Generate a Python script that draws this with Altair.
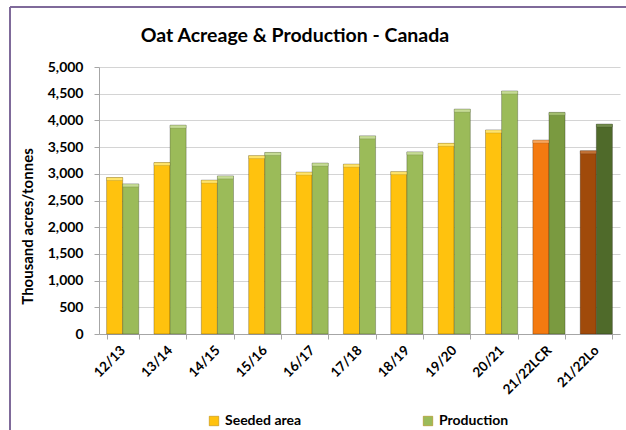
import altair as alt
import pandas as pd

years = ["12/13", "13/14", "14/15", "15/16", "16/17", "17/18", "18/19",
         "19/20", "20/21", "21/22LCR", "21/22Lo"]
seeded = [2930, 3210, 2880, 3340, 3030, 3180, 3040, 3570, 3820, 3630, 3430]
production = [2810, 3910, 2960, 3400, 3200, 3710, 3410, 4210, 4550, 4150, 3930]
seeded_keys = ["Seeded area"] * 9 + ["Seeded LCR", "Seeded Lo"]
production_keys = ["Production"] * 9 + ["Production LCR", "Production Lo"]
chart_title = ["Oat Acreage & Production - Canada"]

key_domain = ["Seeded area", "Production", "Seeded LCR", "Production LCR",
              "Seeded Lo", "Production Lo"]
key_colors = ["#FFC20E", "#9BBB59", "#F47A10", "#7A9A40", "#A04A0A", "#4F6A2A"]
cap_colors = ["#FFE46A", "#C6DC95", "#F9A55A", "#A2BE6E", "#C27236", "#728C4C"]

rows = []
for i, y in enumerate(years):
    rows.append({"year": y, "series": "Seeded area", "value": seeded[i], "key": seeded_keys[i]})
    rows.append({"year": y, "series": "Production", "value": production[i], "key": production_keys[i]})
df = pd.DataFrame(rows)
one = pd.DataFrame({"t": chart_title})

FONT = "Lato"

x_enc = alt.X("year:N", sort=years, title=None,
              scale=alt.Scale(paddingInner=0.32, paddingOuter=0.16),
              axis=alt.Axis(labelAngle=-45, labelAlign="right", labelBaseline="middle",
                            labelPadding=9, labelFontSize=13.5, labelFontWeight="bold",
                            labelFont=FONT, labelColor="#000000",
                            tickBand="extent", tickSize=5, tickColor="#A6A6A6",
                            domainColor="#A6A6A6", grid=False))
xoff = alt.XOffset("series:N", sort=["Seeded area", "Production"])
y_enc = alt.Y("value:Q", title="Thousand acres/tonnes",
              scale=alt.Scale(domain=[0, 5000], nice=False),
              axis=alt.Axis(values=list(range(0, 5001, 500)), format=",d",
                            labelFontSize=14, labelFontWeight="bold", labelFont=FONT,
                            labelColor="#000000", labelPadding=11,
                            tickSize=5, tickColor="#A6A6A6", domainColor="#A6A6A6",
                            gridColor="#D4D4D4",
                            titleFont=FONT, titleFontSize=15, titleFontWeight="bold",
                            titleColor="#000000", titleAngle=270, titleAlign="center",
                            titleBaseline="middle", titleX=-72, titleY=159))

bars = alt.Chart(df).mark_bar(
    stroke="#000000", strokeOpacity=0.3, strokeWidth=0.8
).encode(
    x=x_enc,
    xOffset=xoff,
    y=y_enc,
    color=alt.Color("key:N",
                    scale=alt.Scale(domain=key_domain, range=key_colors),
                    legend=alt.Legend(values=["Seeded area", "Production"], title=None,
                                      orient="none", direction="horizontal",
                                      legendX=108, legendY=347,
                                      symbolType="square", symbolSize=90,
                                      symbolStrokeColor="#B08000", symbolStrokeWidth=0.5,
                                      labelFont=FONT, labelFontSize=14,
                                      labelFontWeight="bold", labelColor="#000000",
                                      columnPadding=119, labelOffset=4)),
)

caps = alt.Chart(df).transform_calculate(
    low="datum.value - 55"
).mark_bar(stroke="#000000", strokeOpacity=0.2, strokeWidth=0.6).encode(
    x=x_enc,
    xOffset=xoff,
    y=y_enc,
    y2="low:Q",
    color=alt.Color("key:N", scale=alt.Scale(domain=key_domain, range=cap_colors),
                    legend=None),
)

title = alt.Chart(one).mark_text(
    font=FONT, fontSize=19.5, fontWeight="bold", color="#000000",
    align="center", baseline="middle", clip=False
).encode(text="t:N", x=alt.value(196), y=alt.value(-31))

frame_left = alt.Chart(one).mark_rule(color="#7F6A9A", strokeWidth=2, clip=False).encode(
    x=alt.value(-89), y=alt.value(-60), y2=alt.value(370))
frame_top = alt.Chart(one).mark_rule(color="#7F6A9A", strokeWidth=2, clip=False).encode(
    x=alt.value(-89), x2=alt.value(530), y=alt.value(-60))

chart = alt.layer(bars, caps, title, frame_left, frame_top).resolve_scale(
    color="independent"
).properties(
    width=521, height=267,
    autosize=alt.AutoSizeParams(type="none"),
    padding={"left": 99, "top": 67, "right": 6, "bottom": 96},
).configure(background="white").configure_view(stroke=None)

chart.save("out.html", embed_options={"renderer": "svg", "actions": False})
